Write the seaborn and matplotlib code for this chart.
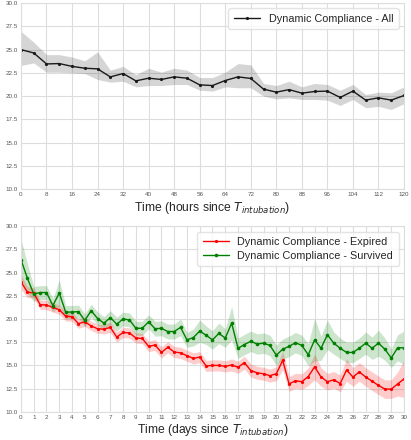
import matplotlib
matplotlib.use("Agg")
import matplotlib.pyplot as plt
import seaborn as sns
import numpy as np
import pandas as pd

# --- top panel: all patients, every 4 hours ---
hours = list(range(0, 121, 4))
all_mean = [25.0, 24.64, 23.46, 23.5, 23.2, 23.0, 22.93, 22.07, 22.43, 21.64, 21.93,
            21.79, 22.07, 21.93, 21.21, 21.14, 21.68, 22.07, 21.9, 20.75, 20.43, 20.7,
            20.32, 20.5, 20.54, 19.86, 20.54, 19.57, 19.82, 19.57, 20.07]
all_lo = [23.3, 23.57, 22.57, 22.57, 22.5, 22.43, 21.79, 21.5, 21.6, 21.0, 21.14,
          21.14, 21.25, 21.25, 20.64, 20.54, 21.0, 20.9, 20.9, 20.0, 19.7, 19.82,
          19.64, 19.64, 19.57, 19.0, 19.64, 18.75, 18.9, 18.57, 19.2]
all_hi = [26.96, 25.8, 24.46, 24.46, 24.2, 23.8, 24.75, 22.79, 23.2, 22.3, 23.0,
          22.57, 23.0, 22.8, 22.0, 22.0, 22.57, 23.5, 23.36, 21.36, 21.14, 21.6,
          21.0, 21.36, 21.25, 20.64, 21.25, 20.18, 20.43, 20.36, 21.0]

# --- bottom panel: expired vs survived, every half day ---
days = [d / 2 for d in range(61)]
expired_mean = [24.0, 22.9, 22.8, 21.55, 21.5, 21.25, 21.0, 20.3, 20.25, 19.5, 19.7,
                19.25, 18.95, 18.9, 19.1, 18.05, 18.55, 18.5, 17.95, 17.9, 17.05,
                17.2, 16.4, 16.95, 16.45, 16.35, 16.05, 15.75, 15.9, 14.95, 15.0,
                15.0, 14.9, 15.05, 14.8, 15.3, 14.45, 14.2, 14.1, 13.9, 14.1,
                15.55, 13.0, 13.35, 13.25, 13.8, 14.85, 13.75, 13.25, 13.45, 13.05,
                14.5, 13.75, 14.3, 13.75, 13.3, 12.85, 12.45, 12.45, 13.0, 13.55]
expired_hw = [0.8, 0.6, 0.55, 0.5, 0.5, 0.5, 0.5, 0.5, 0.5, 0.5, 0.5,
              0.5, 0.5, 0.5, 0.55, 0.55, 0.55, 0.55, 0.55, 0.55, 0.55,
              0.6, 0.6, 0.6, 0.6, 0.6, 0.6, 0.6, 0.6, 0.6, 0.6,
              0.6, 0.6, 0.65, 0.65, 0.7, 0.7, 0.7, 0.7, 0.7, 0.75,
              1.0, 0.8, 0.8, 0.85, 0.95, 1.4, 1.0, 0.9, 0.9, 0.9,
              1.2, 1.0, 1.0, 1.0, 1.0, 1.0, 1.0, 1.0, 1.3, 2.0]
survived_mean = [26.4, 24.4, 22.7, 22.85, 22.85, 21.45, 22.8, 20.75, 20.75, 20.8, 19.85,
                 20.9, 20.05, 19.55, 20.15, 19.45, 20.0, 19.9, 19.0, 19.0, 19.7,
                 18.95, 19.0, 18.65, 18.65, 19.1, 17.75, 18.0, 18.7, 18.25, 17.75,
                 18.45, 17.95, 19.55, 16.85, 17.25, 17.6, 17.3, 17.4, 17.15, 16.1,
                 16.75, 17.05, 17.45, 17.15, 16.15, 17.75, 16.85, 18.3, 17.4, 16.85,
                 16.4, 16.4, 16.85, 17.4, 16.85, 17.4, 16.75, 15.8, 16.9, 16.9]
survived_hw = [2.2, 1.6, 0.8, 0.75, 0.75, 0.75, 1.4, 0.7, 0.7, 0.7, 0.7,
               0.7, 0.7, 0.7, 0.75, 0.75, 0.75, 0.75, 0.75, 0.75, 0.75,
               0.8, 0.8, 0.8, 0.8, 0.9, 0.8, 0.9, 1.2, 1.0, 1.0,
               1.1, 1.0, 1.8, 1.1, 1.1, 1.1, 1.1, 1.1, 1.1, 1.1,
               1.1, 1.1, 1.1, 1.1, 1.2, 2.3, 1.3, 1.6, 1.2, 1.1,
               1.1, 1.1, 1.1, 1.2, 1.2, 1.4, 1.2, 1.0, 1.4, 1.8]

sns.set_theme(style="whitegrid")
plt.rcParams['font.family'] = ['Liberation Sans', 'DejaVu Sans']

fig = plt.figure(figsize=(4.11, 4.40), dpi=100)
ax1 = fig.add_axes([0.051, 0.570, 0.932, 0.423])
ax2 = fig.add_axes([0.051, 0.064, 0.932, 0.422])

top = pd.DataFrame({"hours": hours, "value": all_mean})
ax1.fill_between(hours, all_lo, all_hi, color="k", alpha=0.18, linewidth=0)
sns.lineplot(data=top, x="hours", y="value", color="k", marker="o", markersize=2.3,
             markeredgewidth=0, linewidth=1.0, label="Dynamic Compliance - All", ax=ax1)

bottom = pd.DataFrame({"days": days, "expired": expired_mean, "survived": survived_mean})
lo_e = np.array(expired_mean) - np.array(expired_hw)
hi_e = np.array(expired_mean) + np.array(expired_hw)
lo_s = np.array(survived_mean) - np.array(survived_hw)
hi_s = np.array(survived_mean) + np.array(survived_hw)
ax2.fill_between(days, lo_e, hi_e, color="red", alpha=0.2, linewidth=0)
ax2.fill_between(days, lo_s, hi_s, color="green", alpha=0.2, linewidth=0)
sns.lineplot(data=bottom, x="days", y="expired", color="red", marker="o", markersize=2.3,
             markeredgewidth=0, linewidth=1.0, label="Dynamic Compliance - Expired", ax=ax2)
sns.lineplot(data=bottom, x="days", y="survived", color="green", marker="o", markersize=2.6,
             markeredgewidth=0, linewidth=1.0, label="Dynamic Compliance - Survived", ax=ax2)

yticks = [10.0, 12.5, 15.0, 17.5, 20.0, 22.5, 25.0, 27.5, 30.0]
for ax in (ax1, ax2):
    ax.set_ylim(10, 30)
    ax.set_yticks(yticks)
    ax.set_yticklabels([f"{t:.1f}" for t in yticks])
    ax.tick_params(labelsize=4.5, colors="#555555", pad=2, length=0)
    ax.set_ylabel("")
    ax.grid(color="#dddddd", linewidth=0.8)
    for s in ax.spines.values():
        s.set_color("#dddddd")
        s.set_linewidth(0.8)
    leg = ax.legend(loc="upper right", fontsize=7.8, frameon=True, handlelength=2.4,
                    borderpad=0.5, labelspacing=0.35)
    leg.get_frame().set_edgecolor("#dddddd")

ax1.set_xlim(0, 120)
ax1.set_xticks(list(range(0, 121, 8)))
ax1.set_xlabel(r"Time (hours since $T_{intubation}$)", fontsize=8.7, labelpad=2)

ax2.set_xlim(0, 30)
ax2.set_xticks(list(range(0, 31)))
ax2.set_xlabel(r"Time (days since $T_{intubation}$)", fontsize=8.7, labelpad=2)

fig.savefig("out.png", dpi=100)
